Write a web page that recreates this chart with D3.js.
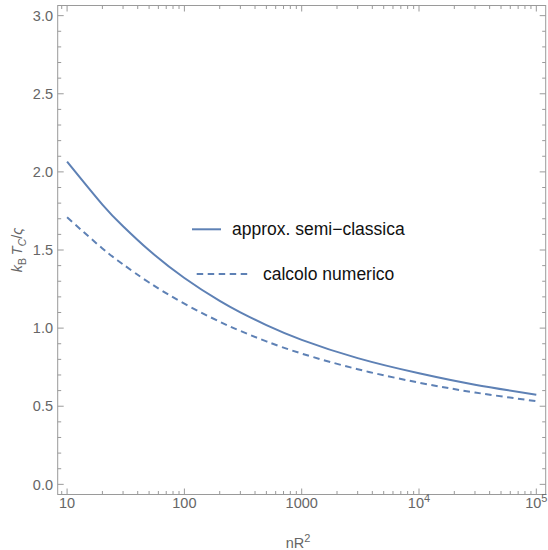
<!DOCTYPE html>
<html>
<head>
<meta charset="utf-8">
<script src="https://cdn.jsdelivr.net/npm/d3@7"></script>
<style>
  html, body { margin: 0; padding: 0; background: #fff; }
  svg { display: block; }
  text { font-family: "Liberation Sans", Arial, sans-serif; }
</style>
</head>
<body>
<svg id="chart" width="548" height="550"></svg>
<script>
// nR^2 sample positions
const nR2 = [10, 20, 30, 50, 100, 200, 300, 500, 1000, 3000, 10000, 30000, 100000];
// semi-classical approximation of k_B T_C / ς
const semiClassical = [2.066, 1.791, 1.652, 1.498, 1.321, 1.174, 1.101, 1.019, 0.925, 0.808, 0.711, 0.638, 0.574];
// numerical calculation of k_B T_C / ς
const numerical = [1.709, 1.510, 1.408, 1.292, 1.156, 1.041, 0.982, 0.915, 0.837, 0.737, 0.651, 0.588, 0.532];

const xMajorTicks = [10, 100, 1000, 10000, 100000];
const xTickLabels = [["10", ""], ["100", ""], ["1000", ""], ["10", "4"], ["10", "5"]];
const yMajorTicks = [0, 0.5, 1.0, 1.5, 2.0, 2.5, 3.0];
const legendLabels = ["approx. semi\u2212classica", "calcolo numerico"];

const color = "#5e81b5";
const frameColor = "#9a9a9a";
const labelColor = "#666";

const svg = d3.select("#chart");
const frame = { left: 57.7, right: 545.7, top: 5.5, bottom: 494.5 };

const x = d3.scaleLog().domain([Math.pow(10, 0.92), Math.pow(10, 5.08)]).range([frame.left, frame.right]);
const y = d3.scaleLinear().domain([-0.065, 3.065]).range([frame.bottom, frame.top]);

// minor ticks: 2..9 times each decade, within the domain
const xMinor = [];
for (let e = 0; e <= 5; e++) {
  for (let m = 2; m <= 9; m++) {
    const v = m * Math.pow(10, e);
    if (v >= x.domain()[0] && v <= x.domain()[1]) xMinor.push(v);
  }
}
const yMinor = d3.range(0, 31).map(i => i / 10).filter(v => Math.abs(v * 2 - Math.round(v * 2)) > 1e-6);

const g = svg.append("g");

// frame
g.append("rect")
  .attr("x", frame.left).attr("y", frame.top)
  .attr("width", frame.right - frame.left).attr("height", frame.bottom - frame.top)
  .attr("fill", "none").attr("stroke", frameColor).attr("stroke-width", 1);

// tick marks on all four sides, pointing inward
const majLen = 6, minLen = 3.5;
function hTicks(vals, len) {
  vals.forEach(v => {
    const px = x(v);
    g.append("line").attr("x1", px).attr("x2", px).attr("y1", frame.bottom).attr("y2", frame.bottom - len)
      .attr("stroke", frameColor).attr("stroke-width", 1);
    g.append("line").attr("x1", px).attr("x2", px).attr("y1", frame.top).attr("y2", frame.top + len)
      .attr("stroke", frameColor).attr("stroke-width", 1);
  });
}
function vTicks(vals, len) {
  vals.forEach(v => {
    const py = y(v);
    g.append("line").attr("x1", frame.left).attr("x2", frame.left + len).attr("y1", py).attr("y2", py)
      .attr("stroke", frameColor).attr("stroke-width", 1);
    g.append("line").attr("x1", frame.right).attr("x2", frame.right - len).attr("y1", py).attr("y2", py)
      .attr("stroke", frameColor).attr("stroke-width", 1);
  });
}
hTicks(xMajorTicks, majLen);
hTicks(xMinor.filter(v => !xMajorTicks.includes(v)), minLen);
vTicks(yMajorTicks, majLen);
vTicks(yMinor, minLen);

// x tick labels
xMajorTicks.forEach((v, i) => {
  const t = g.append("text")
    .attr("x", x(v)).attr("y", 508)
    .attr("text-anchor", "middle")
    .attr("font-size", 14.5)
    .attr("fill", labelColor);
  t.append("tspan").text(xTickLabels[i][0]);
  if (xTickLabels[i][1]) {
    t.append("tspan").attr("dy", -6).attr("font-size", 11).text(xTickLabels[i][1]);
  }
});

// y tick labels
yMajorTicks.forEach(v => {
  g.append("text")
    .attr("x", 53).attr("y", y(v)).attr("dy", "0.36em")
    .attr("text-anchor", "end")
    .attr("font-size", 14.5)
    .attr("fill", labelColor)
    .text(d3.format(".1f")(v));
});

// axis titles
const xt = g.append("text")
  .attr("x", 298).attr("y", 548)
  .attr("text-anchor", "middle")
  .attr("font-size", 14.5)
  .attr("fill", labelColor);
xt.append("tspan").text("nR");
xt.append("tspan").attr("dy", -6).attr("font-size", 11).text("2");

const yt = g.append("text")
  .attr("transform", "translate(22,250) rotate(-90)")
  .attr("text-anchor", "middle")
  .attr("font-size", 14.5)
  .attr("fill", labelColor);
yt.append("tspan").attr("font-style", "italic").text("k");
yt.append("tspan").attr("dy", 4).attr("font-size", 10.5).text("B");
yt.append("tspan").attr("dy", -4).text("\u2009");
yt.append("tspan").attr("font-style", "italic").text("T");
yt.append("tspan").attr("dy", 4).attr("font-size", 10.5).attr("font-style", "italic").text("C");
yt.append("tspan").attr("dy", -4).text("/");
yt.append("tspan").attr("font-style", "italic").text("\u03c2");

// curves
const line = d3.line()
  .x(d => x(d[0]))
  .y(d => y(d[1]))
  .curve(d3.curveNatural);

const plot = svg.append("g");
plot.append("path")
  .datum(nR2.map((v, i) => [v, semiClassical[i]]))
  .attr("d", line)
  .attr("fill", "none").attr("stroke", color).attr("stroke-width", 2);
plot.append("path")
  .datum(nR2.map((v, i) => [v, numerical[i]]))
  .attr("d", line)
  .attr("fill", "none").attr("stroke", color).attr("stroke-width", 2)
  .attr("stroke-dasharray", "6.5,4.5");

// legend
const legend = svg.append("g");
legend.append("line")
  .attr("x1", 192).attr("x2", 221).attr("y1", 229.3).attr("y2", 229.3)
  .attr("stroke", color).attr("stroke-width", 2);
legend.append("text")
  .attr("x", 232).attr("y", 229.3).attr("dy", "0.35em")
  .attr("font-size", 17.5).attr("fill", "#111")
  .text(legendLabels[0]);
legend.append("line")
  .attr("x1", 196.7).attr("x2", 250).attr("y1", 274).attr("y2", 274)
  .attr("stroke", color).attr("stroke-width", 2)
  .attr("stroke-dasharray", "6.5,4.5");
legend.append("text")
  .attr("x", 263).attr("y", 274).attr("dy", "0.35em")
  .attr("font-size", 17.5).attr("fill", "#111")
  .text(legendLabels[1]);
</script>
</body>
</html>
